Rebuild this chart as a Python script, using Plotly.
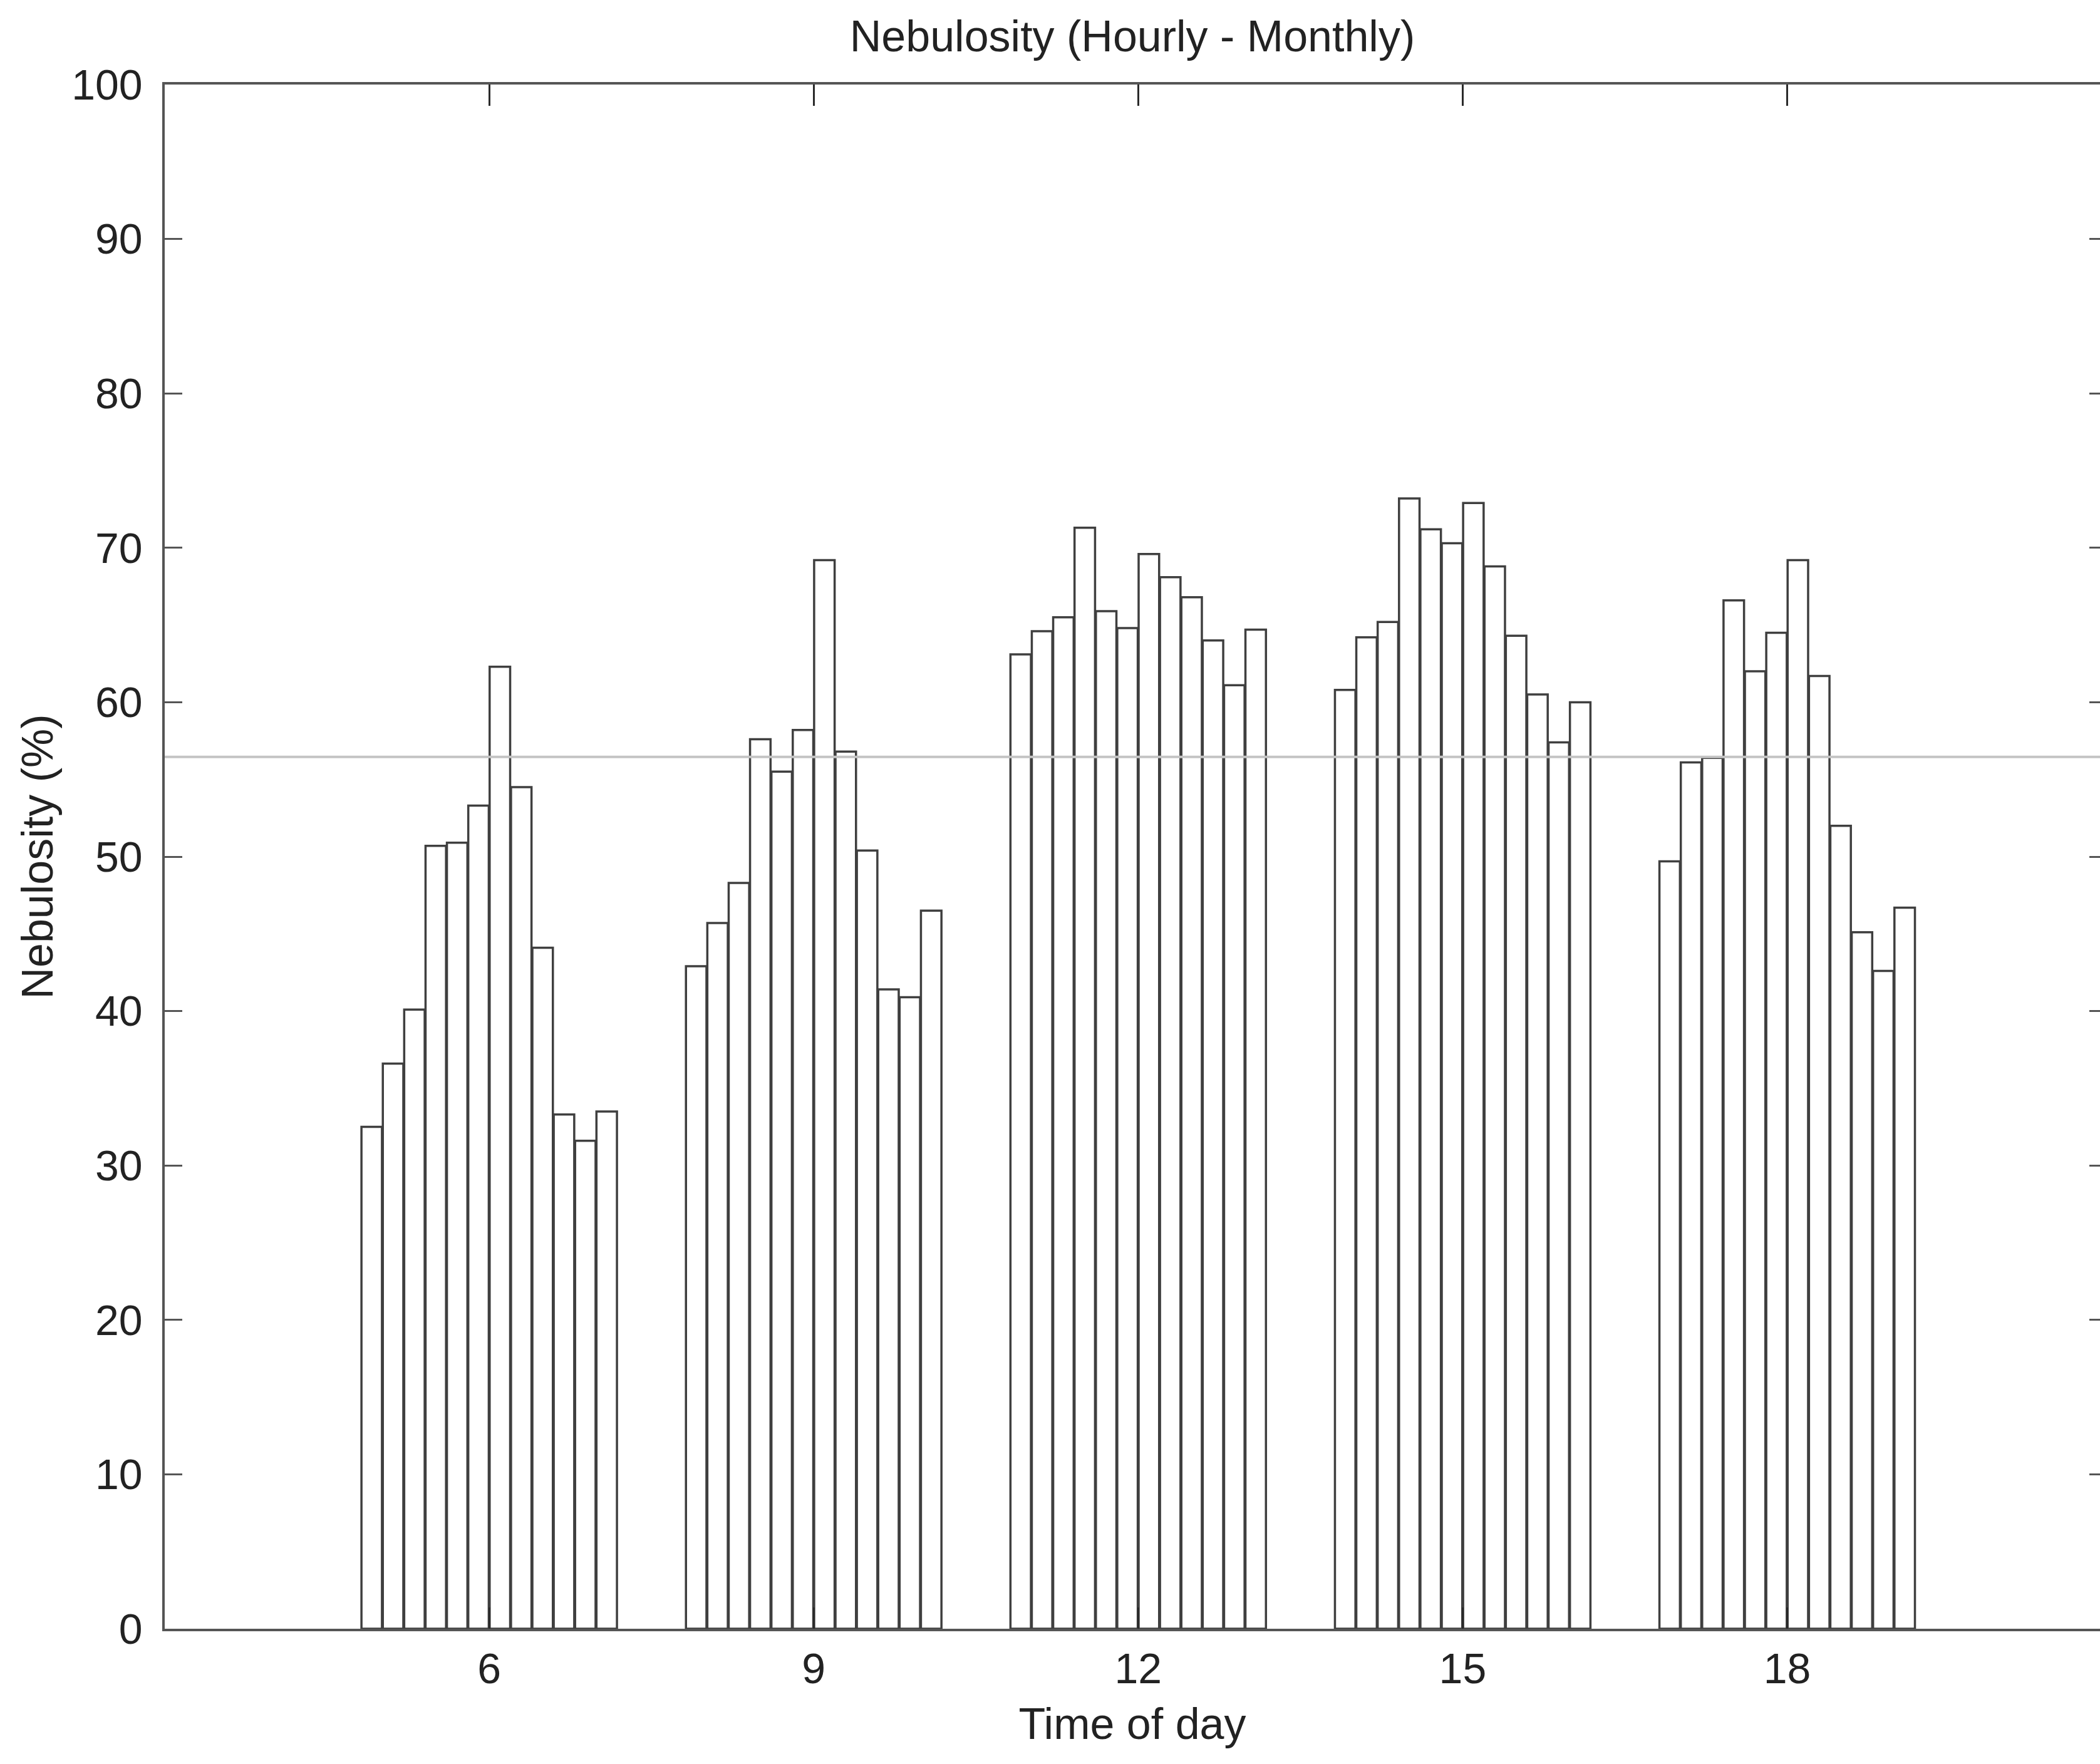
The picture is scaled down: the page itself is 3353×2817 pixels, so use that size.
import numpy as np
import plotly.graph_objects as go

# Hours of the day at which nebulosity was observed
hours = [6, 9, 12, 15, 18]
tick_labels = ["6", "9", "12", "15", "18"]
months = ["Jan", "Feb", "Mar", "Apr", "May", "Jun",
          "Jul", "Aug", "Sep", "Oct", "Nov", "Dec"]

# Monthly mean nebulosity (%) for each observation hour
neb_06h = [32.5, 36.6, 40.1, 50.7, 50.9, 53.3, 62.3, 54.5, 44.1, 33.3, 31.6, 33.5]
neb_09h = [42.9, 45.7, 48.3, 57.6, 55.5, 58.2, 69.2, 56.8, 50.4, 41.4, 40.9, 46.5]
neb_12h = [63.1, 64.6, 65.5, 71.3, 65.9, 64.8, 69.6, 68.1, 66.8, 64.0, 61.1, 64.7]
neb_15h = [60.8, 64.2, 65.2, 73.2, 71.2, 70.3, 72.9, 68.8, 64.3, 60.5, 57.4, 60.0]
neb_18h = [49.7, 56.1, 56.4, 66.6, 62.0, 64.5, 69.2, 61.7, 52.0, 45.1, 42.6, 46.7]

by_hour = np.array([neb_06h, neb_09h, neb_12h, neb_15h, neb_18h])
overall_mean = float(by_hour.mean())

FONT = "Liberation Sans, Arial, Helvetica, sans-serif"
TEXT = "#222222"
AXIS = "#555555"

fig = go.Figure()

# One bar series per month, grouped around each hour
for m, month in enumerate(months):
    fig.add_trace(go.Bar(
        x=hours,
        y=by_hour[:, m],
        name=month,
        marker=dict(color="white", line=dict(color="#3f3f3f", width=3.5)),
        showlegend=False,
    ))

# Empty trace so the right-hand tick axis is rendered
fig.add_trace(go.Scatter(x=[], y=[], yaxis="y2", showlegend=False, hoverinfo="skip"))

# Overall mean across all hours and months
fig.add_hline(y=overall_mean, line=dict(color="#c4c4c4", width=4), layer="above")

fig.update_layout(
    width=3353,
    height=2817,
    margin=dict(l=263, r=0, t=135, b=216),
    paper_bgcolor="white",
    plot_bgcolor="white",
    font=dict(family=FONT, size=68, color=TEXT),
    barmode="group",
    bargap=0.21,
    bargroupgap=0.04,
    title=dict(
        text="Nebulosity (Hourly - Monthly)",
        x=0.5, xref="paper", xanchor="center",
        y=1 - 57 / 2817, yref="container", yanchor="middle",
        font=dict(family=FONT, size=70, color=TEXT),
    ),
    xaxis=dict(
        range=[3, 20.892],
        tickmode="array",
        tickvals=hours,
        ticktext=tick_labels,
        ticks="inside",
        ticklen=34,
        tickwidth=3,
        tickcolor="#2a2a2a",
        showline=True,
        linecolor=AXIS,
        linewidth=3.5,
        mirror="ticks",
        showgrid=False,
        zeroline=False,
        ticklabelstandoff=2,
        title=dict(text="Time of day", standoff=28,
                   font=dict(family=FONT, size=70, color=TEXT)),
    ),
    yaxis=dict(
        range=[0, 100],
        tick0=0,
        dtick=10,
        ticks="inside",
        ticklen=28,
        tickwidth=3,
        tickcolor=AXIS,
        showline=True,
        linecolor=AXIS,
        linewidth=3.5,
        mirror=False,
        showgrid=False,
        zeroline=False,
        ticklabelstandoff=18,
        title=dict(text="Nebulosity (%)", standoff=8,
                   font=dict(family=FONT, size=70, color=TEXT)),
    ),
    yaxis2=dict(
        overlaying="y",
        side="right",
        range=[0, 100],
        tick0=0,
        dtick=10,
        ticks="inside",
        ticklen=17,
        tickwidth=3,
        tickcolor=AXIS,
        showticklabels=False,
        showline=False,
        showgrid=False,
        zeroline=False,
    ),
)

fig.write_html("out.html")
